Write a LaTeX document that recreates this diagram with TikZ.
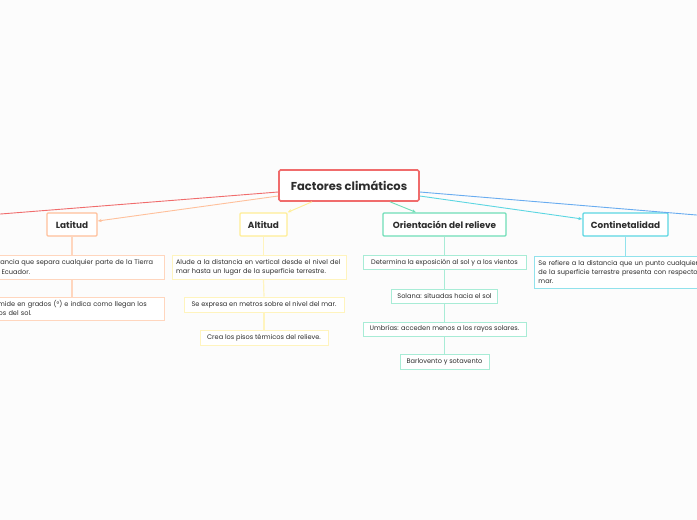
\documentclass[tikz,border=0pt]{standalone}
\usepackage{fontspec}
\setmainfont{Poppins}
\usetikzlibrary{arrows.meta}
\definecolor{bgc}{RGB}{252,252,252}
\definecolor{txt}{RGB}{45,45,45}
\definecolor{redc}{RGB}{240,108,108}
\definecolor{latc}{RGB}{255,192,155}
\definecolor{latl}{RGB}{255,214,190}
\definecolor{altc}{RGB}{255,238,150}
\definecolor{altl}{RGB}{255,244,190}
\definecolor{oric}{RGB}{112,222,184}
\definecolor{oril}{RGB}{168,236,214}
\definecolor{conc}{RGB}{92,214,226}
\definecolor{conl}{RGB}{145,226,236}
\definecolor{bluec}{RGB}{104,172,240}
\tikzset{
  mainbox/.style={draw=redc, line width=1.6pt, fill=white, rounded corners=1.5pt, inner sep=0pt,
     text=txt, font=\bfseries\fontsize{11.5}{13}\selectfont},
  catbox/.style={line width=1.4pt, fill=white, rounded corners=1pt, inner sep=0pt,
     text=txt, font=\bfseries\fontsize{8.9}{10}\selectfont},
  leafbox/.style={line width=0.9pt, fill=white, inner sep=0pt,
     text=txt, font=\fontsize{6.6}{9.2}\selectfont},
  arr/.style={line width=0.9pt, -{Stealth[length=4pt,width=3.2pt]}},
  link/.style={line width=0.9pt},
  stem/.style={line width=1.2pt}
}
\begin{document}
\begin{tikzpicture}[x=1pt,y=-1pt]
\fill[bgc] (0,0) rectangle (697,520);
\useasboundingbox (0,0) rectangle (697,520);
\clip (0,0) rectangle (697,520);

% central
\node[mainbox, minimum width=140pt, minimum height=31pt] (center) at (349,185.5) {Factores climáticos};

% categories
\node[catbox, draw=latc, minimum width=50pt, minimum height=23pt] (lat) at (72,224.5) {Latitud};
\node[catbox, draw=altc, minimum width=47pt, minimum height=23pt] (alt) at (263.5,224.5) {Altitud};
\node[catbox, draw=oric, minimum width=123pt, minimum height=23pt] (ori) at (444.5,224.5) {Orientación del relieve};
\node[catbox, draw=conc, minimum width=85pt, minimum height=23pt] (con) at (625.5,224.5) {Continetalidad};

% offscreen ends
\coordinate (leftend) at (-2,214.2);
\coordinate (rightend) at (699,215.2);

% Latitud children
\node[leafbox, draw=latl, minimum width=190pt, minimum height=24pt, text width=180pt, align=left] (latA) at (69,267) {La distancia que separa cualquier parte de la Tierra\\con el Ecuador.};
\node[leafbox, draw=latl, minimum width=181pt, minimum height=23pt, text width=171pt, align=left] (latB) at (73.5,308.5) {Se mide en grados (°) e indica como llegan los\\rayos del sol.};

% Altitud children
\node[leafbox, draw=altl, minimum width=174pt, minimum height=24pt, text width=166pt, align=left] (altA) at (259,267) {Alude a la distancia en vertical desde el nivel del\\mar hasta un lugar de la superficie terrestre.};
\node[leafbox, draw=altl, minimum width=160pt, minimum height=15pt] (altB) at (264,304.5) {Se expresa en metros sobre el nivel del mar.};
\node[leafbox, draw=altl, minimum width=128pt, minimum height=15pt] (altC) at (264,337.5) {Crea los pisos térmicos del relieve.};

% Orientación children
\node[leafbox, draw=oril, minimum width=163pt, minimum height=14pt] (oriA) at (444.5,262.5) {Determina la exposición al sol y a los vientos};
\node[leafbox, draw=oril, minimum width=106pt, minimum height=14pt] (oriB) at (444.5,296) {Solana: situadas hacia el sol};
\node[leafbox, draw=oril, minimum width=163pt, minimum height=14pt] (oriC) at (444.5,329) {Umbrías: acceden menos a los rayos solares.};
\node[leafbox, draw=oril, minimum width=89pt, minimum height=15pt] (oriD) at (444.5,361.5) {Barlovento y sotavento};

% Continentalidad child
\node[leafbox, draw=conl, minimum width=190pt, minimum height=32pt, text width=182pt, align=left, anchor=west] (conA) at (534,272) {Se refiere a la distancia que un punto cualquiera\\de la superficie terrestre presenta con respecto al\\mar.};

% main connectors
\draw[link, redc] ([yshift=-6.5pt]center.west) -- (leftend);
\draw[arr, latc] ([yshift=-10.5pt]center.west) -- ([yshift=3.5pt]lat.east);
\draw[arr, altc] ([xshift=-37pt]center.south) -- (alt.north east);
\draw[arr, oric] ([xshift=41pt]center.south) -- ([xshift=-28.5pt]ori.north);
\draw[arr, conc] ([yshift=-10.5pt]center.east) -- ([yshift=5.5pt]con.west);
\draw[link, bluec] ([yshift=-6.5pt]center.east) -- (rightend);

% stems
\draw[stem, latl] (lat.south) -- (lat.south |- latA.north);
\draw[stem, latl] (lat.south |- latA.south) -- (lat.south |- latB.north);
\draw[stem, altl] (alt.south) -- (alt.south |- altA.north);
\draw[stem, altl] (alt.south |- altA.south) -- (altB.north);
\draw[stem, altl] (altB.south) -- (altC.north);
\draw[stem, oril] (ori.south) -- (oriA.north);
\draw[stem, oril] (oriA.south) -- (oriB.north);
\draw[stem, oril] (oriB.south) -- (oriC.north);
\draw[stem, oril] (oriC.south) -- (oriD.north);
\draw[stem, conl] (con.south) -- (con.south |- conA.north);
\end{tikzpicture}
\end{document}
